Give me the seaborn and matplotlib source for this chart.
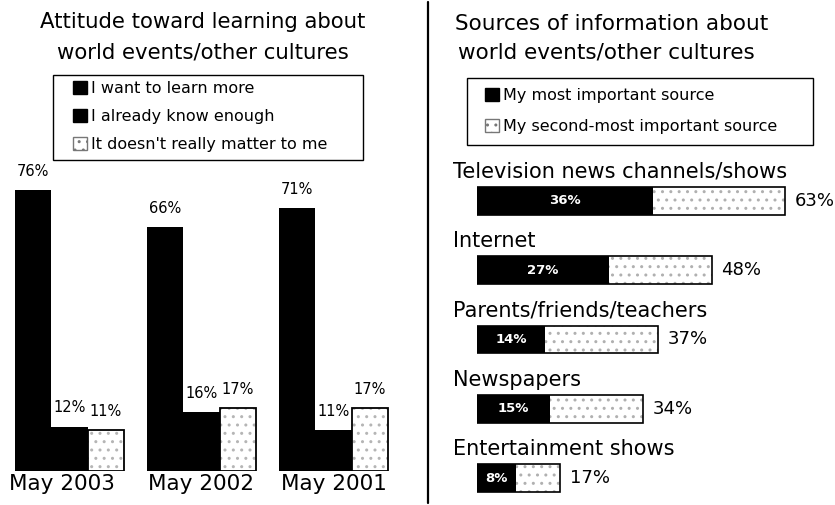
import matplotlib
matplotlib.use("Agg")
import matplotlib.pyplot as plt
import matplotlib.transforms as mtransforms
from matplotlib.patches import Patch, Rectangle
import seaborn as sns
import pandas as pd

# ---- data ----
periods = ["May 2003", "May 2002", "May 2001"]
attitudes = ["I want to learn more", "I already know enough", "It doesn't really matter to me"]
want_more = [76, 66, 71]
know_enough = [12, 16, 11]
doesnt_matter = [11, 17, 17]

sources = ["Television news channels/shows", "Internet", "Parents/friends/teachers",
           "Newspapers", "Entertainment shows"]
most_important = [36, 27, 14, 15, 8]
total_top_two = [63, 48, 37, 34, 17]
source_series = ["My most important source", "My second-most important source"]

sns.set_theme(style="white")
plt.rcParams["font.family"] = ["DejaVu Sans"]
plt.rcParams["text.color"] = "black"
plt.rcParams["xtick.color"] = "black"
plt.rcParams["axes.labelcolor"] = "black"

W, H = 835, 505
fig = plt.figure(figsize=(W / 100, H / 100), dpi=100)
fig.patch.set_facecolor("white")


def fx(px):
    return px / W


def fy(py):
    return 1 - py / H


def legend_box(x0, y0, x1, y1):
    fig.add_artist(Rectangle((fx(x0), fy(y1)), fx(x1 - x0), (y1 - y0) / H,
                             transform=fig.transFigure, fill=False,
                             edgecolor="black", linewidth=1.0))


# ---- left panel: grouped bars ----
att_df = pd.DataFrame({
    "period": periods * 3,
    "attitude": [attitudes[0]] * 3 + [attitudes[1]] * 3 + [attitudes[2]] * 3,
    "pct": want_more + know_enough + doesnt_matter,
})

axL = fig.add_axes([0, fy(471), fx(420), (471 - 160) / H])
sns.barplot(data=att_df, x="period", y="pct", hue="attitude", order=periods,
            hue_order=attitudes, palette=["black", "black", "white"],
            width=0.83, ax=axL, legend=False, saturation=1, linewidth=0)
axL.set_xlim(-69.5 / 132, (420 - 69.5) / 132)
axL.set_ylim(0, 84)
for s in axL.spines.values():
    s.set_visible(False)
axL.set_yticks([])
axL.set_xlabel("")
axL.set_ylabel("")
axL.tick_params(axis="x", length=0, pad=2, labelsize=15.5)
# first period label sits a little left of its group
first_lbl = axL.get_xticklabels()[0]
first_lbl.set_transform(first_lbl.get_transform() +
                        mtransforms.ScaledTranslation(-0.08, 0, fig.dpi_scale_trans))

# speckled fill + outline for the third series
for p in axL.containers[2]:
    p.set_facecolor("white")
    p.set_hatch("..")
    p.set_edgecolor("#b5b5b5")
    p.set_linewidth(0)
    axL.add_patch(Rectangle(p.get_xy(), p.get_width(), p.get_height(),
                            fill=False, edgecolor="black", linewidth=1.3))

for c in axL.containers:
    axL.bar_label(c, fmt="%d%%", padding=8, fontsize=10.5)

fig.text(fx(203), fy(22), "Attitude toward learning about", ha="center", va="center", fontsize=15.3)
fig.text(fx(203), fy(52), "world events/other cultures", ha="center", va="center", fontsize=15.3)

left_handles = [
    Patch(facecolor="black", edgecolor="black"),
    Patch(facecolor="black", edgecolor="black"),
    Patch(facecolor="white", edgecolor="#777777", hatch=".."),
]
legend_box(53, 75, 363, 160)
fig.legend(left_handles, attitudes, loc="upper left",
           bbox_to_anchor=(fx(73), fy(81)), frameon=False,
           fontsize=11.5, handlelength=0.85, handleheight=0.85,
           handletextpad=0.3, labelspacing=0.82, borderpad=0,
           borderaxespad=0)

# ---- right panel: stacked horizontal bars ----
src_df = pd.DataFrame({"source": sources, "first": most_important, "total": total_top_two})

axR = fig.add_axes([fx(477), 0, fx(W - 477), (505 - 150) / H])
sns.barplot(data=src_df, y="source", x="total", order=sources, color="white",
            orient="h", width=0.40, ax=axR, saturation=1, linewidth=0)
sns.barplot(data=src_df, y="source", x="first", order=sources, color="black",
            orient="h", width=0.40, ax=axR, saturation=1, linewidth=0)
axR.set_xlim(0, (W - 477) / 4.89)
axR.set_ylim((505 - 201) / 69.25, (150 - 201) / 69.25)
for s in axR.spines.values():
    s.set_visible(False)
axR.set_xticks([])
axR.set_yticks([])
axR.set_xlabel("")
axR.set_ylabel("")

total_bars, first_bars = axR.containers[0], axR.containers[1]
for p in total_bars:
    p.set_hatch("..")
    p.set_edgecolor("#b0b0b0")
    axR.add_patch(Rectangle(p.get_xy(), p.get_width(), p.get_height(),
                            fill=False, edgecolor="black", linewidth=1.2))
axR.bar_label(total_bars, fmt="%d%%", padding=7, fontsize=13)
axR.bar_label(first_bars, fmt="%d%%", label_type="center", color="white",
              fontsize=9.5, fontweight="bold")

for i, name in enumerate(sources):
    axR.text(-4.9, i - 0.42, name, ha="left", va="center", fontsize=15, clip_on=False)

fig.text(fx(455), fy(24), "Sources of information about", ha="left", va="center", fontsize=15.5)
fig.text(fx(458), fy(52), "world events/other cultures", ha="left", va="center", fontsize=15.5)

right_handles = [
    Patch(facecolor="black", edgecolor="black"),
    Patch(facecolor="white", edgecolor="#777777", hatch=".."),
]
legend_box(467, 78, 813, 145)
fig.legend(right_handles, source_series, loc="upper left",
           bbox_to_anchor=(fx(485), fy(88)), frameon=False,
           fontsize=11.5, handlelength=0.85, handleheight=0.85,
           handletextpad=0.3, labelspacing=1.0, borderpad=0,
           borderaxespad=0)

# vertical divider between the panels
fig.add_artist(plt.Line2D([fx(428), fx(428)], [fy(2), fy(503)], color="black", linewidth=1.6))

fig.savefig("out.png", dpi=100, facecolor="white")
